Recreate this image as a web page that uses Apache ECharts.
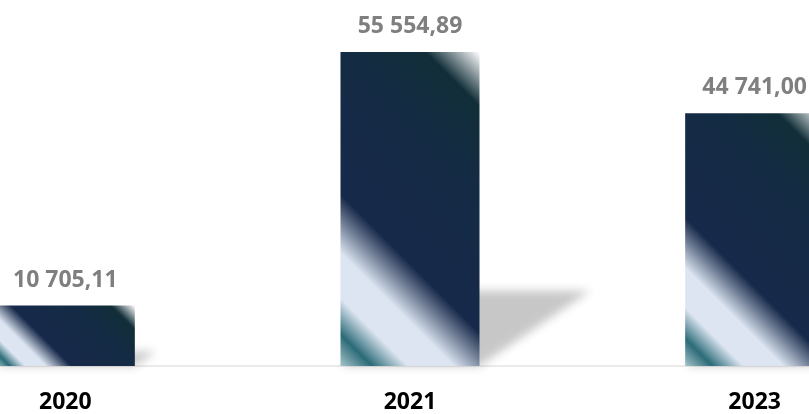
<!DOCTYPE html>
<html>
<head>
<meta charset="utf-8">
<title>Bar chart</title>
<script src="https://cdn.jsdelivr.net/npm/echarts@6/dist/echarts.min.js"></script>
<style>
  html, body { margin: 0; padding: 0; background: #ffffff; overflow: hidden; width: 809px; height: 414px; }
  /* plot is wider than the window: first and last bars are cut at the edges */
  #chart { width: 1034px; height: 414px; margin-left: -107px; }
</style>
</head>
<body>
<div id="chart"></div>
<script>
// data
const years = ['2020', '2021', '2023'];
const amounts = [10705.11, 55554.89, 44741.00];

const BAR_WIDTH = 139;

// 10705.11 -> "10 705,11"
function fmt (v) {
  const parts = v.toFixed(2).split('.');
  return parts[0].replace(/\B(?=(\d{3})+(?!\d))/g, ' ') + ',' + parts[1];
}

// 45 degree gradient from bottom-left corner to top-right corner of a w x h bar
function barGradient (w, h) {
  const d = (w + h) / 2;
  return new echarts.graphic.LinearGradient(0, 1, d / w, 1 - d / h, [
    { offset: 0, color: '#a6c4ca' },
    { offset: 0.07, color: '#2b6b78' },
    { offset: 0.15, color: '#dce5f1' },
    { offset: 0.25, color: '#dce5f1' },
    { offset: 0.38, color: '#17294a' },
    { offset: 0.7, color: '#142b44' },
    { offset: 0.88, color: '#112e38' },
    { offset: 1, color: '#ffffff' }
  ]);
}

const chart = echarts.init(document.getElementById('chart'));

chart.setOption({
  animation: false,
  grid: {
    left: 0,
    right: 0,
    top: 27,
    bottom: 48
  },
  xAxis: {
    type: 'category',
    data: years,
    axisTick: { show: false },
    axisLine: { lineStyle: { color: '#ebebeb', width: 2 } },
    axisLabel: {
      margin: 25,
      color: '#000000',
      fontFamily: 'Noto Sans',
      fontWeight: 'bold',
      fontSize: 23
    }
  },
  yAxis: {
    type: 'value',
    min: 0,
    max: 60000,
    show: false,
    splitLine: { show: false }
  },
  series: [
    {
      id: 'shadow',
      type: 'custom',
      z: 1,
      silent: true,
      data: amounts.map((v, i) => [i, v]),
      renderItem (params, api) {
        const base = api.coord([api.value(0), 0]);
        const top = api.coord([api.value(0), api.value(1)]);
        const h = base[1] - top[1];
        const xl = base[0] - BAR_WIDTH / 2;
        const xr = base[0] + BAR_WIDTH / 2;
        const y0 = base[1];
        const s = 0.353 * h;
        const rise = 0.24 * h;
        const shift = 3000;
        return {
          type: 'polygon',
          shape: {
            points: [
              [xl - shift, y0],
              [xr - shift, y0],
              [xr + s - shift, y0 - rise],
              [xl + s - shift, y0 - rise]
            ]
          },
          style: {
            fill: '#000',
            shadowColor: 'rgba(0,0,0,0.22)',
            shadowBlur: 10,
            shadowOffsetX: shift,
            shadowOffsetY: 0
          }
        };
      }
    },
    {
      id: 'bars',
      type: 'bar',
      z: 2,
      barWidth: BAR_WIDTH,
      data: amounts,
      itemStyle: { color: '#142b44' },
      label: {
        show: true,
        position: 'top',
        distance: 14,
        color: '#7f7f7f',
        fontFamily: 'Noto Sans',
        fontWeight: 'bold',
        fontSize: 23,
        formatter: p => fmt(p.value)
      }
    }
  ]
});

// gradients need the bar size in pixels
const coloured = amounts.map((v, i) => {
  const base = chart.convertToPixel({ seriesId: 'bars' }, [i, 0]);
  const top = chart.convertToPixel({ seriesId: 'bars' }, [i, v]);
  const h = base[1] - top[1];
  return { value: v, itemStyle: { color: barGradient(BAR_WIDTH, h) } };
});

chart.setOption({
  series: [{ id: 'bars', data: coloured }]
});
</script>
</body>
</html>
